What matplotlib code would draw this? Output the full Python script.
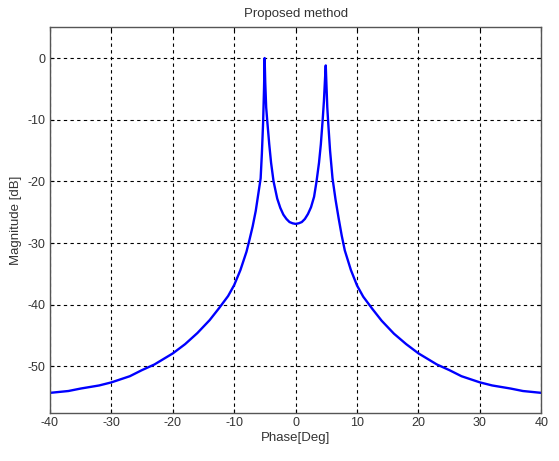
import numpy as np
import matplotlib.pyplot as plt

plt.rcParams['font.family'] = ['Liberation Sans', 'DejaVu Sans']
plt.rcParams['axes.unicode_minus'] = False

# values (phase in deg, magnitude in dB)
phase = [-40, -37, -35, -32, -30, -27, -25, -23, -20, -18, -16, -14, -12.5,
         -11, -10, -9, -8, -7.5, -7, -6.5, -6, -5.7, -5.5, -5.3, -5.15, -5.05,
         -4.95, -4.8, -4.6, -4.3, -4.0, -3.6, -3.0, -2.5, -2.0, -1.5, -1.0,
         -0.5, 0, 0.5, 1.0, 1.5, 2.0, 2.5, 3.0, 3.4, 3.8, 4.1, 4.4, 4.6, 4.8,
         4.9, 5.0, 5.15, 5.3, 5.6, 6.0, 6.5, 7.0, 7.5, 8, 9, 10, 11, 12.5,
         14, 16, 18, 20, 23, 25, 27, 30, 32, 35, 37, 40]
mag = [-54.3, -54.0, -53.6, -53.1, -52.6, -51.6, -50.6, -49.7, -47.9, -46.4,
       -44.6, -42.5, -40.6, -38.6, -36.8, -34.4, -31.4, -29.4, -27.3, -24.8,
       -21.5, -19.5, -15.5, -10.5, -5.0, 0.0,
       -4.0, -8.0, -10.5, -14.0, -17.0, -20.0, -22.8, -24.3, -25.4, -26.1,
       -26.6, -26.8, -26.9, -26.8, -26.6, -26.1, -25.3, -24.2, -22.5, -20.0,
       -17.0, -14.0, -10.0, -7.0, -3.0, -1.2, -4.0, -8.0, -10.5, -15.0,
       -19.5, -23.0, -26.0, -28.8, -31.2, -34.4, -36.9, -38.7, -40.7, -42.6,
       -44.7, -46.4, -47.9, -49.7, -50.6, -51.6, -52.6, -53.1, -53.6, -54.0,
       -54.3]

xticks = [-40, -30, -20, -10, 0, 10, 20, 30, 40]
yticks = [0, -10, -20, -30, -40, -50]

fig = plt.figure(figsize=(5.59, 4.61), dpi=100)
ax = fig.add_axes([0.0894, 0.105, 0.879, 0.836])

ax.plot(phase, mag, color=(0, 0, 1), linewidth=1.7)

ax.set_xlim(-40, 40)
ax.set_ylim(-57.5, 5)
ax.set_xticks(xticks)
ax.set_yticks(yticks)
ax.grid(True, color='black', linestyle=(0, (3, 3)), linewidth=0.8)
ax.tick_params(direction='in', length=3, top=True, right=True,
               labelsize=9, labelcolor='#333333')
for s in ax.spines.values():
    s.set_color('#555555')
    s.set_linewidth(1.0)

ax.set_title('Proposed method', fontsize=9.5, color='#333333', pad=7)
ax.set_xlabel('Phase[Deg]', fontsize=9.5, color='#333333', labelpad=2)
ax.set_ylabel('Magnitude [dB]', fontsize=9.5, color='#333333', labelpad=4)

fig.savefig('out.png', dpi=100)
